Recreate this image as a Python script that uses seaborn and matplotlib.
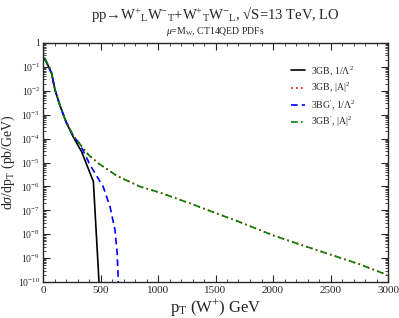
import numpy as np
import pandas as pd
import matplotlib
matplotlib.use('Agg')
import matplotlib.pyplot as plt
import matplotlib.ticker as mticker
import seaborn as sns

# pT (GeV) and dsigma/dpT (pb/GeV)
pt_3gb = [15, 75, 104, 148, 200, 264, 336, 438, 487]
xs_3gb = [2.3e-1, 5.4e-2, 1.1e-2, 2.4e-3, 5.0e-4, 1.15e-4, 2.8e-5, 1.6e-6, 1e-10]

pt_3gb_a = [15, 75, 104, 148, 200, 264, 322, 400, 481, 641, 843, 1017, 1278, 1510,
            1713, 2003, 2250, 2500, 2750, 2990]
xs_3gb_a = [2.3e-1, 5.4e-2, 1.1e-2, 2.4e-3, 5.2e-4, 1.3e-4, 5.8e-5, 2.0e-5, 9.3e-6,
            2.8e-6, 9.8e-7, 5.5e-7, 1.95e-7, 7.4e-8, 3.2e-8, 8.9e-9, 3.5e-9,
            1.4e-9, 5.6e-10, 2.0e-10]

pt_3bgp = [15, 75, 104, 148, 200, 264, 322, 409, 496, 524, 583, 626, 645, 655]
xs_3bgp = [2.3e-1, 5.4e-2, 1.1e-2, 2.4e-3, 5.1e-4, 1.25e-4, 5.8e-5, 7.9e-6, 1.6e-6,
           9.5e-7, 1.4e-7, 1.5e-8, 1.6e-9, 1e-10]

pt_3gbp_a = pt_3gb_a
xs_3gbp_a = xs_3gb_a

labels = [r'3GB, 1/$\Lambda^2$', r'3GB, |A|$^2$', r"3BG$'$, 1/$\Lambda^2$", r"3GB$'$, |A|$^2$"]

sns.set_style('ticks')
plt.rcParams['font.family'] = ['Liberation Serif', 'DejaVu Serif']
plt.rcParams['mathtext.fontset'] = 'custom'
plt.rcParams['mathtext.rm'] = 'Liberation Serif'
plt.rcParams['mathtext.it'] = 'Liberation Serif:italic'
plt.rcParams['mathtext.cal'] = 'Liberation Serif'

fig = plt.figure(figsize=(3.99, 3.18), dpi=100)
ax = fig.add_axes([43 / 399, 1 - 282 / 318, 345 / 399, 239 / 318])

sns.lineplot(x=pt_3gb, y=xs_3gb, ax=ax, color='black', lw=1.2, label=labels[0])
sns.lineplot(x=pt_3gb_a, y=xs_3gb_a, ax=ax, color='red', lw=1.2, ls=(0, (1, 2)), label=labels[1])
sns.lineplot(x=pt_3bgp, y=xs_3bgp, ax=ax, color='blue', lw=1.2, ls=(0, (4, 2.5)), label=labels[2])
sns.lineplot(x=pt_3gbp_a, y=xs_3gbp_a, ax=ax, color='green', lw=1.2, ls=(0, (4, 2, 1, 2)), label=labels[3])

ax.set_yscale('log')
ax.set_xlim(0, 3000)
ax.set_ylim(1e-10, 1)
ax.xaxis.set_major_locator(mticker.MultipleLocator(500))
ax.xaxis.set_minor_locator(mticker.MultipleLocator(100))
ax.yaxis.set_major_locator(mticker.LogLocator(base=10, numticks=20))
ax.yaxis.set_minor_locator(mticker.LogLocator(base=10, subs=np.arange(2, 10), numticks=20))
ax.yaxis.set_minor_formatter(mticker.NullFormatter())


def yfmt(v, pos):
    e = int(round(np.log10(v)))
    if e == 0:
        return '1'
    return r'10$^{%d}$' % e


ax.yaxis.set_major_formatter(mticker.FuncFormatter(yfmt))
ax.tick_params(which='both', direction='in', top=True, right=True, labelsize=8, pad=3)
ax.tick_params(axis='y', labelsize=7, pad=2)
ax.tick_params(which='major', length=5)
ax.tick_params(which='minor', length=2.5)
for s in ax.spines.values():
    s.set_linewidth(1.0)

ax.set_xlabel(r'p$_{\rm T}$ (W$^{+}$) GeV', fontsize=12, labelpad=1)
ax.set_ylabel(r'd$\sigma$/dp$_{\rm T}$ (pb/GeV)', fontsize=10)
ax.yaxis.set_label_coords(-0.076, 0.5)

fig.text(0.54, 0.955, 'pp→W$^{+}$$_{\\rm L}$W$^{-}$$_{\\rm T}$+W$^{+}$$_{\\rm T}$W$^{-}$$_{\\rm L}$, '
         '√S=13 TeV, LO', ha='center', va='center', fontsize=10.5)
fig.text(0.54, 0.9, r'$\mu$=M$_{\rm W}$, CT14QED PDFs', ha='center', va='center', fontsize=7)

ax.legend(loc='upper left', bbox_to_anchor=((282 - 43) / 345, 1 - (55 - 43) / 239), frameon=False,
          fontsize=7, handlelength=1.5, handletextpad=0.6, labelspacing=0.3)

fig.savefig('out.png', dpi=100)
